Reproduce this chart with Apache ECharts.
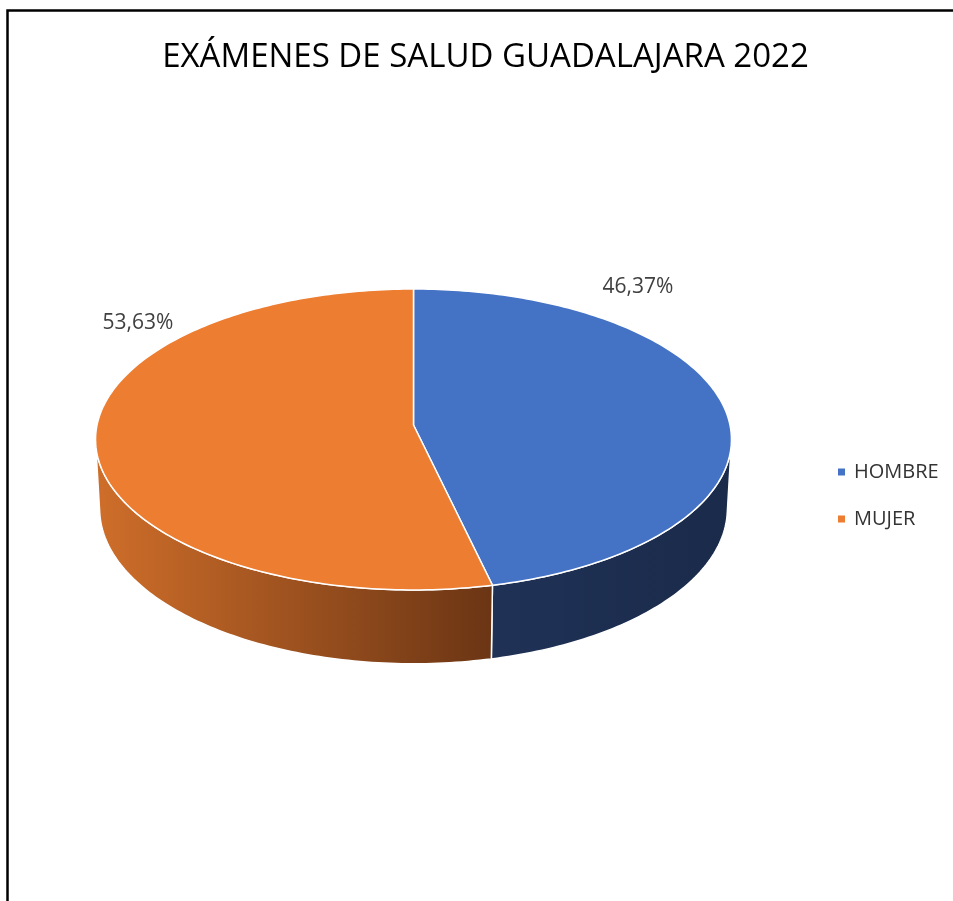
<!DOCTYPE html>
<html>
<head>
<meta charset="utf-8">
<script src="https://cdn.jsdelivr.net/npm/echarts@6/dist/echarts.min.js"></script>
<style>
  html, body { margin: 0; padding: 0; background: #fff; }
  #chart { width: 953px; height: 901px; }
</style>
</head>
<body>
<div id="chart"></div>
<script>
const TITLE = 'EXÁMENES DE SALUD GUADALAJARA 2022'
const CATEGORIES = ['HOMBRE', 'MUJER']
const VALUES = [46.37, 53.63]

const TOP_COLORS = ['#4472C4', '#ED7D31']
const SIDE_COLORS = [['#1F3256', '#1A2A4A'], ['#CF6E2A', '#6B3514']]
const FONT = '"Open Sans", "Noto Sans", sans-serif'

// 3d pie camera (pixels / disk radius units)
const CX = 413.5
const CY = 425
const F = 2902
const D = 9.17
const TILT = 28.1 * Math.PI / 180
const DEPTH = 0.25
const LABEL_XY = [[638, 287], [138, 323]]

const total = VALUES.reduce((a, b) => a + b, 0)
const cosP = Math.cos(TILT)
const sinP = Math.sin(TILT)
// outer wall faces the camera only where sin(t) > this
const wallMin = Math.asin(1 / (D * cosP)) * 180 / Math.PI

function project(deg, y) {
  const r = deg * Math.PI / 180
  const X = Math.cos(r)
  const Z = Math.sin(r)
  const yc = y * cosP - Z * sinP
  const d = D - (Z * cosP + y * sinP)
  return [CX + F * X / d, CY - F * yc / d]
}

function arc(a0, a1, y) {
  const pts = []
  const n = Math.max(2, Math.ceil(Math.abs(a1 - a0)))
  for (let i = 0; i <= n; i++) {
    pts.push(project(a0 + (a1 - a0) * i / n, y))
  }
  return pts
}

function pctText(v) {
  return (v / total * 100).toFixed(2).replace('.', ',') + '%'
}

function makeRender(idx) {
  return function(params, api) {
    const v = api.value(0)
    let before = 0
    for (let i = 0; i < idx; i++) before += VALUES[i]
    const a0 = -90 + 360 * before / total
    const a1 = a0 + 360 * v / total
    const children = []

    // visible part of the outer wall
    for (const shift of [-360, 0, 360]) {
      const s = Math.max(a0 + shift, wallMin)
      const e = Math.min(a1 + shift, 180 - wallMin)
      if (e <= s) continue
      const topArc = arc(s, e, 0)
      const botArc = arc(s, e, -DEPTH).reverse()
      const pts = topArc.concat(botArc)
      const xs = pts.map(p => p[0])
      children.push({
        type: 'polygon',
        z2: 1,
        shape: { points: pts },
        style: {
          fill: new echarts.graphic.LinearGradient(Math.min(...xs), 0, Math.max(...xs), 0, [
            { offset: 0, color: SIDE_COLORS[idx][0] },
            { offset: 1, color: SIDE_COLORS[idx][1] }
          ], true),
          stroke: '#fff',
          lineWidth: 1.5
        }
      })
    }

    // top face
    children.push({
      type: 'polygon',
      z2: 2,
      shape: { points: [[CX, CY]].concat(arc(a0, a1, 0)) },
      style: { fill: TOP_COLORS[idx], stroke: '#fff', lineWidth: 1.5 }
    })

    children.push({
      type: 'text',
      z2: 3,
      x: LABEL_XY[idx][0],
      y: LABEL_XY[idx][1],
      style: {
        text: pctText(v),
        fill: '#404040',
        font: '21px ' + FONT,
        align: 'center',
        verticalAlign: 'middle'
      }
    })
    return { type: 'group', children }
  }
}

const chart = echarts.init(document.getElementById('chart'))
chart.setOption({
  animation: false,
  graphic: [
    {
      type: 'rect',
      shape: { x: 7.5, y: 10.5, width: 1100, height: 1100 },
      style: { fill: 'none', stroke: '#000', lineWidth: 2.5 }
    },
    {
      type: 'text',
      x: 485.5,
      y: 58,
      style: {
        text: TITLE,
        fill: '#000',
        font: '33px ' + FONT,
        align: 'center',
        verticalAlign: 'middle'
      }
    }
  ],
  legend: {
    orient: 'vertical',
    left: 833,
    top: 457,
    icon: 'rect',
    itemWidth: 7,
    itemHeight: 7,
    itemGap: 27,
    data: CATEGORIES,
    textStyle: { fontSize: 20, color: '#333', fontFamily: FONT, padding: [0, 0, 0, 4] }
  },
  series: CATEGORIES.map((name, i) => ({
    type: 'custom',
    name: name,
    coordinateSystem: 'none',
    itemStyle: { color: TOP_COLORS[i] },
    renderItem: makeRender(i),
    data: [[VALUES[i]]]
  }))
})
</script>
</body>
</html>
